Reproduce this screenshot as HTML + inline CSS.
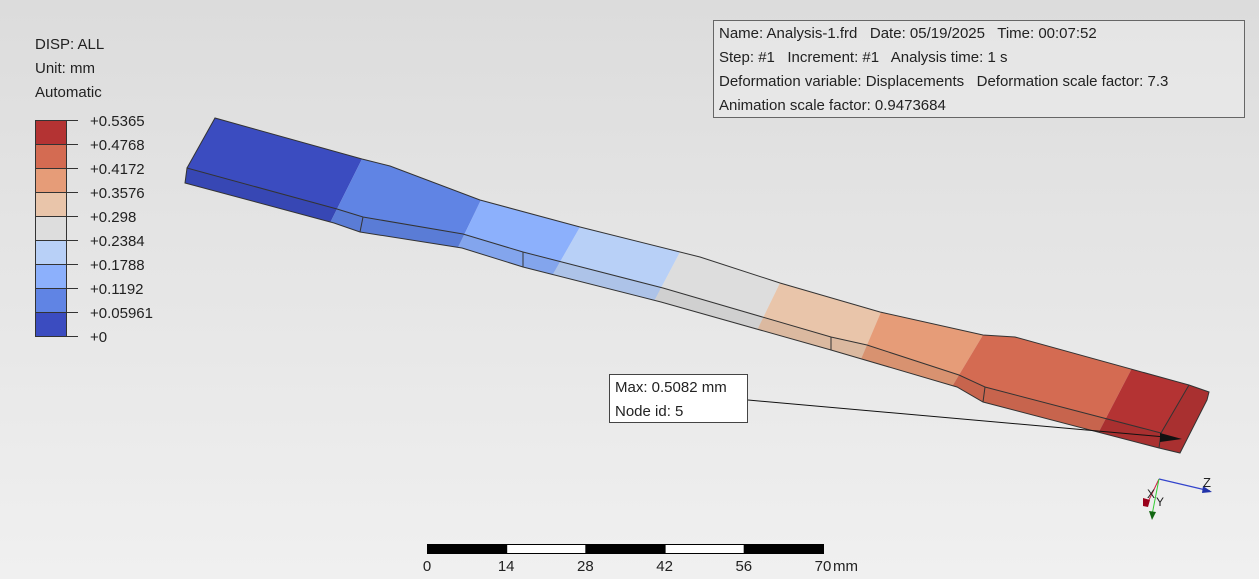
<!DOCTYPE html>
<html><head><meta charset="utf-8"><style>
html,body{margin:0;padding:0;}
body{width:1259px;height:579px;overflow:hidden;background:linear-gradient(#dcdcdc,#f0f0f0);font-family:"Liberation Sans","DejaVu Sans",sans-serif;}
svg{position:absolute;left:0;top:0;}
text{font-family:"Liberation Sans","DejaVu Sans",sans-serif;font-size:15px;fill:#222;white-space:pre;}
</style></head><body>
<svg width="1259" height="579" xml:space="preserve">
<defs>
<clipPath id="spec"><polygon points="215,118 362,159 390,166 480,200 580,227 700,257 780,283 880,312 983,335 1015,337 1189,385 1209,392 1207,400 1180,453 1159,448 983,402 957,387 831,350 661,302 523,267 462,248 360,232 334,223 185,183 187,168"/></clipPath>
</defs>
<g>
<text x="35" y="49">DISP: ALL</text>
<text x="35" y="73">Unit: mm</text>
<text x="35" y="97">Automatic</text>
<g id="bar"></g>
</g>
<g clip-path="url(#spec)" id="spec-g"></g>
<g fill="none" stroke="#333" stroke-width="1">
<polyline points="187,168 215,118 362,159 390,166 480,200 580,227 700,257 780,283 880,312 983,335 1015,337 1189,385 1209,392 1207,400 1180,453 1159,448 983,402 957,387 831,350 661,302 523,267 462,248 360,232 334,223 185,183 187,168 337,209 363,217 463,234 523,252 663,288 831,337 867,345 959,375 985,387 1161,433 1189,385"/>
<line x1="1161" y1="433" x2="1159" y2="448"/>
<line x1="363" y1="217" x2="360" y2="232"/><line x1="523" y1="252" x2="523" y2="267"/>
<line x1="831" y1="337" x2="831" y2="350"/><line x1="985" y1="387" x2="983" y2="402"/>
</g>
<g>
<rect x="713.5" y="20.5" width="531" height="97" fill="#f2f2f2" fill-opacity="0.4" stroke="#666"/>
<text x="719" y="38">Name: Analysis-1.frd   Date: 05/19/2025   Time: 00:07:52</text>
<text x="719" y="62">Step: #1   Increment: #1   Analysis time: 1 s</text>
<text x="719" y="86">Deformation variable: Displacements   Deformation scale factor: 7.3</text>
<text x="719" y="110">Animation scale factor: 0.9473684</text>
</g>
<g>
<line x1="748" y1="400" x2="1165" y2="437" stroke="#111"/>
<polygon points="1160,433 1182,439 1160,442" fill="#111"/>
<rect x="609.5" y="374.5" width="138" height="48" fill="#fff" stroke="#444"/>
<text x="615" y="392">Max: 0.5082 mm</text>
<text x="615" y="416">Node id: 5</text>
</g>
<g>
<line x1="1159" y1="479" x2="1210" y2="491" stroke="#3344cc" stroke-width="1.2"/>
<polygon points="1203,486 1212,492 1202,493" fill="#2233aa"/>
<text x="1203" y="487" style="font-size:13px">Z</text>
<line x1="1159" y1="479" x2="1148" y2="502" stroke="#cc2244"/>
<polygon points="1143,498 1150,500 1148,507 1143,506" fill="#99001a"/>
<text x="1147" y="498" style="font-size:12px">X</text>
<line x1="1159" y1="479" x2="1152" y2="515" stroke="#33cc33"/>
<polygon points="1149,511 1156,512 1152,520" fill="#116611"/>
<text x="1156" y="506" style="font-size:12px">Y</text>
</g>
<g id="scale"></g>
</svg>
<script>
const legendLabels=["+0.5365","+0.4768","+0.4172","+0.3576","+0.298","+0.2384","+0.1788","+0.1192","+0.05961","+0"];
const legendColors=["#b43333","#d46b52","#e69c78","#e9c5aa","#dddddd","#b8d0f7","#8cb0fc","#6084e4","#3b4cc0"];
const scaleLabels=["0","14","28","42","56","70"];
const NS="http://www.w3.org/2000/svg";
function mk(t,a,p){const e=document.createElementNS(NS,t);for(const k in a)e.setAttribute(k,a[k]);p.appendChild(e);return e;}
const bar=document.getElementById('bar');
const top0=120,bh=24;
legendColors.forEach((c,i)=>{
 const r=mk('rect',{x:35.5,y:top0+i*bh+0.5,width:31,height:bh,fill:c,stroke:'#333'},bar);
 
 
});
legendLabels.forEach((l,i)=>{
 const y=top0+i*bh;
 mk('line',{x1:67,y1:y+0.5,x2:78,y2:y+0.5,stroke:'#333'},bar);
 const t=mk('text',{x:90,y:y+6},bar);t.textContent=l;
 
 
});
const bounds=[[[150,60],[150,230]],[[362,159],[337,209]],[[480,202],[465,233]],[[580,227],[560,262]],[[680,252],[660,290]],[[780,283],[763,318]],[[881,312],[867,345]],[[983,335],[959,375]],[[1131,370],[1104,422]],[[1260,380],[1260,480]]];
const bandColors=["#3b4cc0","#6084e4","#8cb0fc","#b8d0f7","#dddddd","#e9c5aa","#e69c78","#d46b52","#b43333"];
const sg=document.getElementById('spec-g');
function ext(a,b,f){return [a[0]+(b[0]-a[0])*f,a[1]+(b[1]-a[1])*f];}
for(let i=0;i<bandColors.length;i++){
 const a=bounds[i],b=bounds[i+1];
 const p=[ext(a[1],a[0],2),ext(b[1],b[0],2),ext(b[0],b[1],2),ext(a[0],a[1],2)];
 const e=mk('polygon',{points:p.map(q=>q.join(',')).join(' '),fill:bandColors[i]},sg);
 
 
}
mk('polygon',{points:"187,168 337,209 363,217 463,234 523,252 663,288 831,337 867,345 959,375 985,387 1161,433 1189,385 1209,392 1207,400 1180,453 1159,448 983,402 957,387 831,350 661,302 523,267 462,248 360,232 334,223 185,183",fill:'#000','fill-opacity':0.06},sg);
const sc=document.getElementById('scale');
const x0=427,seg=79.2;
for(let i=0;i<5;i++){
 const r=mk('rect',{x:x0+i*seg+0.5,y:544.5,width:seg,height:9,fill:i%2?'#fff':'#000',stroke:'#000'},sc);
 
 
}
scaleLabels.forEach((l,i)=>{
 const t=mk('text',{x:x0+i*seg,y:571,'text-anchor':'middle'},sc);t.textContent=l;
 
 
});
const u=mk('text',{x:x0+5*seg+10,y:571},sc);u.textContent='mm';


</script>
</body></html>
